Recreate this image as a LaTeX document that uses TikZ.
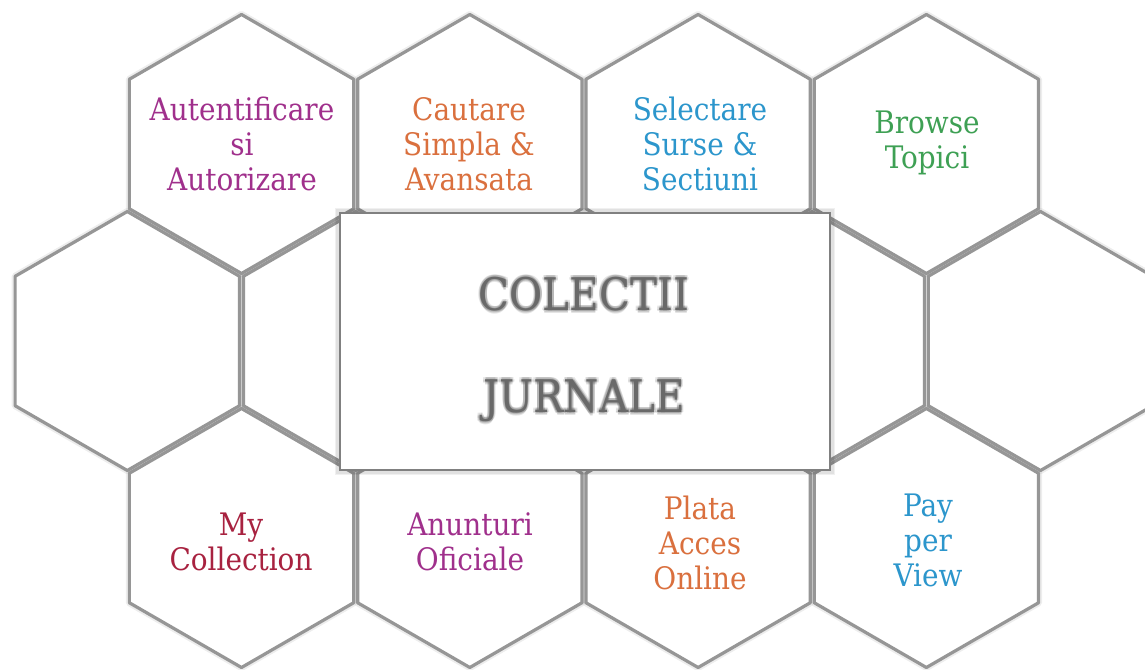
\documentclass[tikz,border=0pt]{standalone}
\usepackage{fontspec}
\setmainfont{DejaVu Serif Condensed}
\definecolor{hexgray}{RGB}{150,150,150}
\definecolor{cpurple}{RGB}{160,48,140}
\definecolor{corange}{RGB}{218,112,62}
\definecolor{cblue}{RGB}{44,150,204}
\definecolor{cgreen}{RGB}{62,160,84}
\definecolor{ccrimson}{RGB}{168,34,64}
\definecolor{ctitle}{RGB}{105,105,105}
\newcommand\hexpath[2]{(#1,#2) +(90:129.5) -- +(30:129.5) -- +(-30:129.5) -- +(-90:129.5) -- +(-150:129.5) -- +(150:129.5) -- cycle}
\begin{document}
\begin{tikzpicture}[x=1pt,y=-1pt,
  hexhalo/.style={draw=black, opacity=0.07, line width=7pt, line join=round},
  hexline/.style={draw=hexgray, line width=3.2pt, line join=round, fill=white},
  hexlabel/.style={font=\fontsize{31}{35}\selectfont, align=center, inner sep=0pt},
  titleshadow/.style={font=\fontsize{45}{50}\selectfont, inner sep=0pt, anchor=base, text=black, opacity=0.10},
  titletext/.style={font=\fontsize{45}{50}\selectfont, inner sep=0pt, anchor=base, text=ctitle},
  boxglow/.style={draw=black, opacity=0.06, line width=2pt},
  centerbox/.style={draw=gray, line width=1.2pt, fill=white}]
\useasboundingbox (0,0) rectangle (1145,669);
\fill[white] (0,0) rectangle (1145,669);
% halos
\foreach \x/\y in {241.5/144,469.8/144,698.1/144,926.4/144,
                   127.3/341,355.6/341,812.2/341,1040.5/341,
                   241.5/538,469.8/538,698.1/538,926.4/538}{
  \draw[hexhalo] \hexpath{\x}{\y};
}
% hexagons
\foreach \x/\y in {241.5/144,469.8/144,698.1/144,926.4/144,
                   127.3/341,355.6/341,812.2/341,1040.5/341,
                   241.5/538,469.8/538,698.1/538,926.4/538}{
  \draw[hexline] \hexpath{\x}{\y};
}
% central box with soft shadow
\foreach \d in {1,2,3,4}{
  \draw[boxglow] (340-\d,213-\d) rectangle (830+\d,470+\d);
}
\draw[centerbox] (340,213) rectangle (830,470);
% title text with glow
\foreach \dx/\dy in {-2/0,2/0,0/-2,0/2,-1.5/-1.5,1.5/1.5,-1.5/1.5,1.5/-1.5,0/3}{
  \node[titleshadow] at (584+\dx,310+\dy) {COLECTII};
  \node[titleshadow] at (584+\dx,412+\dy) {JURNALE};
}
\node[titletext] (colectii) at (584,310) {COLECTII};
\node[titletext] (jurnale) at (584,412) {JURNALE};
% labels
\node[hexlabel, text=cpurple] (auth) at (242,144) {Autentificare\\si\\Autorizare};
\node[hexlabel, text=corange] (cautare) at (469,144) {Cautare\\Simpla \&\\Avansata};
\node[hexlabel, text=cblue] (selectare) at (700,144) {Selectare\\Surse \&\\Sectiuni};
\node[hexlabel, text=cgreen] (browse) at (927,143) {Browse\\Topici};
\node[hexlabel, text=ccrimson] (mycoll) at (241,542) {My\\Collection};
\node[hexlabel, text=cpurple] (anunturi) at (470,542) {Anunturi\\Oficiale};
\node[hexlabel, text=corange] (plata) at (700,543) {Plata\\Acces\\Online};
\node[hexlabel, text=cblue] (pay) at (928,540) {Pay\\per\\View};
\end{tikzpicture}
\end{document}
